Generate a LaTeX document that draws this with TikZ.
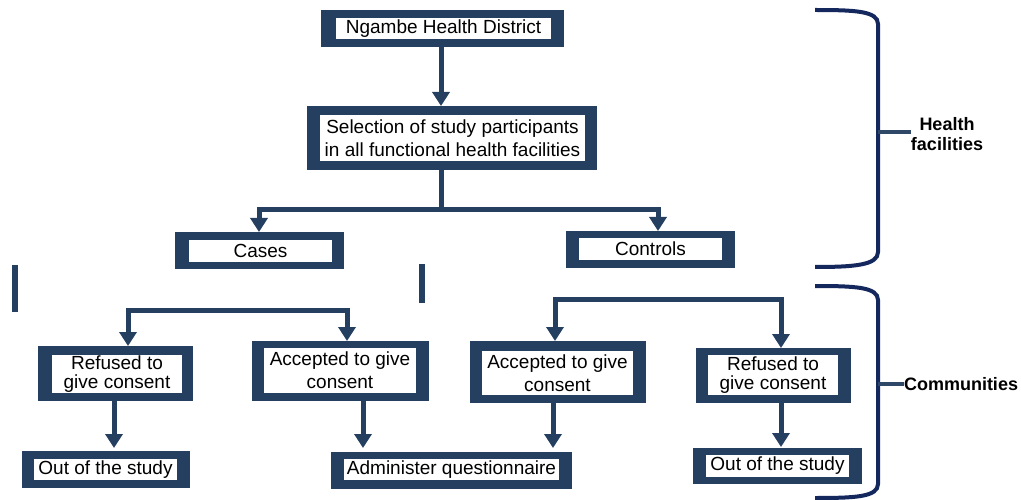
\documentclass[tikz,border=0pt]{standalone}
\usepackage{fontspec}
\setmainfont{Liberation Sans}
\usetikzlibrary{arrows.meta}
\definecolor{frm}{HTML}{243F60}
\definecolor{brk}{HTML}{14285E}
\definecolor{tck}{HTML}{2F4868}
\begin{document}
\begin{tikzpicture}[x=1pt,y=-1pt,
  frame/.style={fill=frm, draw=none, inner sep=0pt, outer sep=0pt, anchor=north west},
  inbox/.style={fill=white, draw=none, inner sep=0pt, outer sep=0pt, anchor=north west, align=center,
    text=black, font=\fontsize{19}{23}\selectfont},
  tight/.style={font=\fontsize{19}{19.5}\selectfont},
  ln/.style={draw=frm, line width=5pt, line join=miter},
  arr/.style={ln, -{Triangle[width=17pt,length=14pt]}},
  bar/.style={draw=frm, line width=6pt},
  brk/.style={draw=brk, line width=4pt},
  tick/.style={draw=tck, line width=4pt},
  lab/.style={inner sep=0pt, outer sep=0pt, text=black, font=\bfseries\fontsize{18}{20}\selectfont, align=center}]
\useasboundingbox (0,0) rectangle (1021,500);

% boxes
\node[frame, minimum width=243pt, minimum height=37pt] (ngO) at (321,10) {};
\node[inbox, minimum width=215pt, minimum height=21pt] (ng) at (336,18) {Ngambe Health District};

\node[frame, minimum width=290pt, minimum height=64pt] (selO) at (307,106) {};
\node[inbox, minimum width=265pt, minimum height=46pt] (sel) at (320,115) {Selection of study participants\\in all functional health facilities};

\node[frame, minimum width=169pt, minimum height=37pt] (casO) at (175,232) {};
\node[inbox, minimum width=143pt, minimum height=22pt] (cas) at (189,240) {Cases};

\node[frame, minimum width=169pt, minimum height=37pt] (conO) at (566,231) {};
\node[inbox, minimum width=143pt, minimum height=22pt] (con) at (579,238) {Controls};

\node[frame, minimum width=155pt, minimum height=55pt] (rlO) at (38,346) {};
\node[inbox, tight, minimum width=130pt, minimum height=38pt] (rl) at (52,355) {Refused to\\give consent};

\node[frame, minimum width=177pt, minimum height=60pt] (alO) at (252,341) {};
\node[inbox, minimum width=152pt, minimum height=45pt] (al) at (264,348) {Accepted to give\\consent};

\node[frame, minimum width=168pt, minimum height=37pt] (olO) at (22,451) {};
\node[inbox, minimum width=143pt, minimum height=21pt] (ol) at (34,459) {Out of the study};

\node[frame, minimum width=241pt, minimum height=37pt] (adO) at (331,452) {};
\node[inbox, minimum width=215pt, minimum height=21pt] (ad) at (344,459) {Administer questionnaire};

\node[frame, minimum width=176pt, minimum height=62pt] (arO) at (470,341) {};
\node[inbox, minimum width=151pt, minimum height=44pt] (ar) at (482,351) {Accepted to give\\consent};

\node[frame, minimum width=155pt, minimum height=55pt] (rrO) at (696,348) {};
\node[inbox, tight, minimum width=130pt, minimum height=40pt] (rr) at (708,355) {Refused to\\give consent};

\node[frame, minimum width=169pt, minimum height=36pt] (orO) at (693,448) {};
\node[inbox, minimum width=143pt, minimum height=22pt] (or) at (706,455) {Out of the study};

% connectors (top)
\coordinate (a1) at (441,0);
\draw[arr] (ngO.south -| a1) -- (selO.north -| a1);
\coordinate (j1) at (441,210);
\coordinate (cx1) at (259,0);
\coordinate (cx2) at (658,0);
\draw[ln] (selO.south -| j1) -- (j1);
\draw[arr] (j1) -| (casO.north -| cx1);
\draw[arr] (j1) -| (conO.north -| cx2);

% bottom left
\coordinate (bl1) at (128,310);
\coordinate (bl2) at (347,310);
\draw[arr] (bl2) -| (rlO.north -| bl1);
\draw[arr] (bl1) -| (alO.north -| bl2);

% bottom right
\coordinate (br1) at (555,299);
\coordinate (br2) at (781,299);
\draw[arr] (br2) -| (arO.north -| br1);
\draw[arr] (br1) -| (rrO.north -| br2);

% lower arrows
\coordinate (v1) at (114,0);
\coordinate (v2) at (363,0);
\coordinate (v3) at (553,0);
\coordinate (v4) at (781,0);
\draw[arr, shorten >=3pt] (rlO.south -| v1) -- (olO.north -| v1);
\draw[arr, shorten >=4pt] (alO.south -| v2) -- (adO.north -| v2);
\draw[arr, shorten >=4pt] (arO.south -| v3) -- (adO.north -| v3);
\draw[arr, shorten >=1pt] (rrO.south -| v4) -- (orO.north -| v4);

% stray bars
\draw[bar] (15,265) -- (15,312);
\draw[bar] (422,264) -- (422,303);

% brackets
\draw[brk] (815,10) .. controls (855,10) and (878,11) .. (878,24) -- (878,252) .. controls (878,265) and (855,267) .. (815,267);
\draw[brk] (815,286) .. controls (855,286) and (878,287) .. (878,300) -- (878,484) .. controls (878,497) and (855,498) .. (815,498);

\node[lab] (hf) at (947,134) {Health\\facilities};
\node[lab, anchor=west] (cm) at (904,384) {Communities};
\coordinate (t1) at (878,132);
\coordinate (t2) at (878,384);
\draw[tick] (t1) -- (t1 -| hf.west);
\draw[tick] (t2) -- (cm.west);
\end{tikzpicture}
\end{document}
